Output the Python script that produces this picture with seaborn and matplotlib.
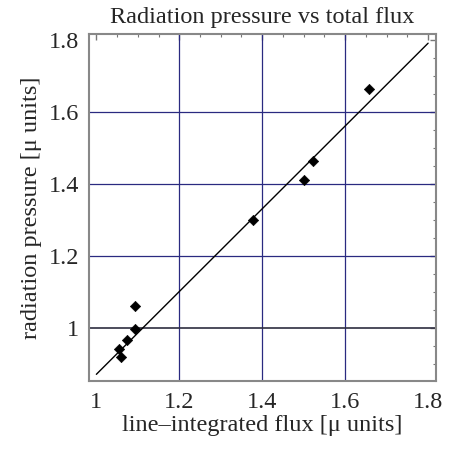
import numpy as np
import pandas as pd
import seaborn as sns
from matplotlib import pyplot as plt
from matplotlib import ticker as tick

flux = [1.054, 1.060, 1.074, 1.093, 1.093, 1.378, 1.501, 1.522, 1.658]
pressure = [0.940, 0.917, 0.964, 0.996, 1.060, 1.300, 1.411, 1.462, 1.663]

# fitted line end points
fit_x = [1.0, 1.8]
fit_y = [0.870, 1.790]

x_grid = [1.2, 1.4, 1.6]
y_grid = [1.2, 1.4, 1.6]
y_ticks = [1.0, 1.2, 1.4, 1.6, 1.8]
x_ticks = [1.0, 1.2, 1.4, 1.6, 1.8]
tick_labels = ["1", "1.2", "1.4", "1.6", "1.8"]


def main():
    sns.set_style("white")
    plt.rcParams["font.family"] = ["Liberation Serif", "DejaVu Serif"]

    df = pd.DataFrame({"flux": flux, "pressure": pressure})
    fit_df = pd.DataFrame({"x": fit_x, "y": fit_y})

    fig, ax = plt.subplots(1, 1, figsize=(4.49, 4.5), dpi=100)
    fig.subplots_adjust(left=0.198, right=0.971, bottom=0.153, top=0.924)

    # grid lines
    for gx in x_grid:
        ax.axvline(gx, color="#2a2a80", lw=0.9, zorder=1)
    for gy in y_grid:
        ax.axhline(gy, color="#2a2a80", lw=0.9, zorder=1)
    ax.axhline(1.0, color="#2e2e40", lw=1.2, zorder=1)

    sns.lineplot(data=fit_df, x="x", y="y", color="black", lw=1.0, ax=ax, zorder=2)
    sns.scatterplot(
        data=df,
        x="flux",
        y="pressure",
        marker="D",
        s=28,
        color="black",
        edgecolor="black",
        ax=ax,
        zorder=3,
    )

    ax.set_xlim(0.982, 1.819)
    ax.set_ylim(0.851, 1.815)
    ax.set_xticks(x_ticks)
    ax.set_xticklabels(tick_labels)
    ax.set_yticks(y_ticks)
    ax.set_yticklabels(tick_labels)
    ax.xaxis.set_minor_locator(tick.MultipleLocator(0.05))
    ax.yaxis.set_minor_locator(tick.MultipleLocator(0.05))
    ax.tick_params(which="both", direction="in", top=True, right=True,
                   color="#777777", labelsize=17.5)
    ax.tick_params(axis="x", pad=8)
    ax.tick_params(axis="y", pad=7)
    ax.tick_params(which="major", length=4, width=1)
    ax.tick_params(which="minor", length=2.5, width=0.8)

    for sp in ax.spines.values():
        sp.set_color("#888888")
        sp.set_linewidth(1.5)

    ax.set_title("Radiation pressure vs total flux", fontsize=17.5, pad=8)
    ax.set_xlabel("line\u2013integrated flux [\u03bc units]", fontsize=17.5, labelpad=1)
    ax.set_ylabel("radiation pressure [\u03bc units]", fontsize=17.5, labelpad=5)

    plt.savefig("out.png", dpi=100)


if __name__ == "__main__":
    main()
